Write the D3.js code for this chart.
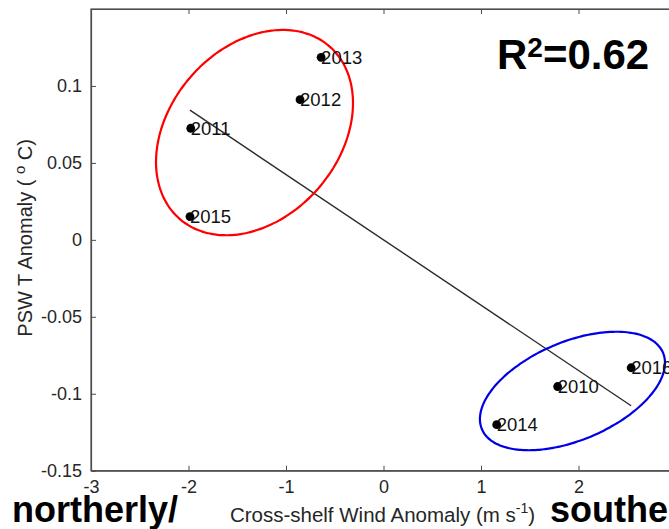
<!DOCTYPE html>
<html>
<head>
<meta charset="utf-8">
<script src="https://cdn.jsdelivr.net/npm/d3@7"></script>
<style>
  html, body { margin: 0; padding: 0; background: #fff; }
  svg { display: block; font-family: "Liberation Sans", Arial, Helvetica, sans-serif; }
</style>
</head>
<body>
<svg id="chart" width="669" height="529"></svg>
<script>
// Yearly anomalies: cross-shelf wind (m s^-1) vs PSW temperature (°C)
const years     = ["2010", "2011", "2012", "2013", "2014", "2015", "2016"];
const windAnom  = [1.786, -1.977, -0.856, -0.640, 1.161, -1.985, 2.540];
const pswtAnom  = [-0.0953, 0.0725, 0.0911, 0.1186, -0.1201, 0.0151, -0.0831];

const xTicks = [-3, -2, -1, 0, 1, 2];
const xTickLabels = ["-3", "-2", "-1", "0", "1", "2"];
const yTicks = [-0.15, -0.1, -0.05, 0, 0.05, 0.1];
const yTickLabels = ["-0.15", "-0.1", "-0.05", "0", "0.05", "0.1"];

const r2Value = "0.62";

// Grouping ellipses in data units: centre, half-extent in x and y, x–y correlation
const warmGroup = { cx: -1.323, cy: 0.0697, hx: 1.010, hy: 0.0667, rho: 0.287 };
const coldGroup = { cx: 1.938, cy: -0.0982, hx: 0.949, hy: 0.0385, rho: 0.474 };

const svg = d3.select("#chart");
const margin = { left: 91, top: 9, right: -7, bottom: 58.3 };
const W = 669, H = 529;

const x = d3.scaleLinear().domain([-3, 3]).range([margin.left, W - margin.right]);
const y = d3.scaleLinear().domain([-0.15, 0.15]).range([H - margin.bottom, margin.top]);

const axisColor = "#4d4d4d";
const textColor = "#262626";

// Box frame
svg.append("rect")
  .attr("x", x(-3)).attr("y", y(0.15))
  .attr("width", x(3) - x(-3)).attr("height", y(-0.15) - y(0.15))
  .attr("fill", "none").attr("stroke", axisColor).attr("stroke-width", 1.2);

// Axes with inward ticks
const gx = svg.append("g").attr("transform", `translate(0,${y(-0.15)})`)
  .call(d3.axisBottom(x).tickValues(xTicks)
    .tickFormat((d, i) => xTickLabels[i])
    .tickSizeInner(-5).tickSizeOuter(0).tickPadding(10));
const gxTop = svg.append("g").attr("transform", `translate(0,${y(0.15)})`)
  .call(d3.axisTop(x).tickValues(xTicks).tickFormat("")
    .tickSizeInner(-5).tickSizeOuter(0));
const gy = svg.append("g").attr("transform", `translate(${x(-3)},0)`)
  .call(d3.axisLeft(y).tickValues(yTicks)
    .tickFormat((d, i) => yTickLabels[i])
    .tickSizeInner(-5).tickSizeOuter(0).tickPadding(9));

[gx, gxTop, gy].forEach(g => {
  g.select(".domain").attr("stroke", axisColor).attr("stroke-width", 1.2);
  g.selectAll(".tick line").attr("stroke", axisColor);
  g.selectAll(".tick text")
    .attr("fill", textColor)
    .style("font-size", "18px")
    .style("font-family", "'Liberation Sans', Arial, sans-serif");
});

// Least-squares fit drawn across the range of the data
const mx = d3.mean(windAnom), my = d3.mean(pswtAnom);
const sxy = d3.sum(windAnom, (v, i) => (v - mx) * (pswtAnom[i] - my));
const sxx = d3.sum(windAnom, v => (v - mx) * (v - mx));
const slope = sxy / sxx, intercept = my - slope * mx;
const [xMin, xMax] = d3.extent(windAnom);
svg.append("line")
  .attr("x1", x(xMin)).attr("y1", y(intercept + slope * xMin))
  .attr("x2", x(xMax)).attr("y2", y(intercept + slope * xMax))
  .attr("stroke", "#2b2b2b").attr("stroke-width", 1.4);

// Ellipses traced in data space and projected through the scales
function ellipsePoints(e) {
  const delta = Math.acos(e.rho);
  return d3.range(0, 360, 2).map(deg => {
    const t = deg * Math.PI / 180;
    return [x(e.cx + e.hx * Math.cos(t)), y(e.cy + e.hy * Math.cos(t - delta))];
  });
}
const line = d3.line().curve(d3.curveCardinalClosed);
svg.append("path").attr("d", line(ellipsePoints(warmGroup)))
  .attr("fill", "none").attr("stroke", "#ff0000").attr("stroke-width", 2.2);
svg.append("path").attr("d", line(ellipsePoints(coldGroup)))
  .attr("fill", "none").attr("stroke", "#0000e6").attr("stroke-width", 2.2);

// Points and year labels
const pts = svg.append("g");
pts.selectAll("circle").data(years).join("circle")
  .attr("cx", (d, i) => x(windAnom[i]))
  .attr("cy", (d, i) => y(pswtAnom[i]))
  .attr("r", 4.4).attr("fill", "#000");
pts.selectAll("text").data(years).join("text")
  .attr("x", (d, i) => x(windAnom[i]))
  .attr("y", (d, i) => y(pswtAnom[i]))
  .attr("dy", "0.36em")
  .attr("fill", "#111")
  .style("font-size", "18.5px")
  .text(d => d);

// Axis titles
svg.append("text")
  .attr("x", x(0) - 1).attr("y", 522)
  .attr("text-anchor", "middle").attr("fill", textColor)
  .style("font-size", "20.5px")
  .text("Cross-shelf Wind Anomaly (m s")
  .append("tspan").attr("dy", -9).style("font-size", "14px").text("-1")
  .clone().attr("dy", 9).style("font-size", "20.5px").text(")");

svg.append("text")
  .attr("transform", `translate(32,${y(0) - 2}) rotate(-90)`)
  .attr("text-anchor", "middle").attr("fill", textColor)
  .style("font-size", "20px")
  .text("PSW T Anomaly ( ")
  .append("tspan").attr("dy", -7).style("font-size", "15px").text("o")
  .clone().attr("dy", 7).style("font-size", "20px").text(" C)");

// Goodness of fit
const r2 = svg.append("text")
  .attr("x", 497).attr("y", 69)
  .attr("fill", "#000").style("font-weight", "bold").style("font-size", "42px");
r2.append("tspan").text("R");
r2.append("tspan").attr("dy", -12).style("font-size", "28px").text("2");
r2.append("tspan").attr("dy", 12).text("=" + r2Value);

// Wind direction captions
svg.append("text").attr("x", 12).attr("y", 522)
  .attr("fill", "#000").style("font-weight", "bold").style("font-size", "36px")
  .text("northerly/");
svg.append("text").attr("x", 550).attr("y", 522)
  .attr("fill", "#000").style("font-weight", "bold").style("font-size", "36px")
  .text("southerly/");
</script>
</body>
</html>
